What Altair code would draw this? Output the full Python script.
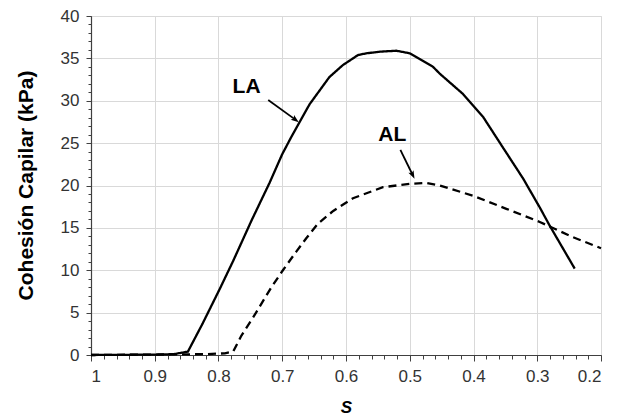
import altair as alt
import pandas as pd

# ---- data ----
la_s = [1.0, 0.95, 0.90, 0.87, 0.848, 0.825, 0.798, 0.777, 0.748, 0.72, 0.70, 0.686, 0.657, 0.626, 0.605, 0.581, 0.568, 0.545, 0.521, 0.50, 0.4635, 0.453, 0.4165, 0.385, 0.354, 0.322, 0.296, 0.28, 0.2413]
la_c = [0.0, 0.02, 0.05, 0.1, 0.4, 3.7, 7.8, 11.1, 15.9, 20.3, 23.7, 25.7, 29.6, 32.8, 34.2, 35.4, 35.6, 35.8, 35.9, 35.6, 34.0, 33.2, 30.8, 28.1, 24.5, 20.8, 17.4, 15.2, 10.2]

al_s = [1.0, 0.90, 0.82, 0.79, 0.777, 0.764, 0.746, 0.717, 0.699, 0.678, 0.662, 0.644, 0.62, 0.589, 0.542, 0.50, 0.474, 0.453, 0.401, 0.3485, 0.296, 0.244, 0.2]
al_c = [0.0, 0.05, 0.1, 0.2, 0.4, 2.3, 4.4, 8.0, 10.0, 12.2, 13.8, 15.5, 17.0, 18.5, 19.8, 20.2, 20.3, 20.0, 18.8, 17.25, 15.7, 13.9, 12.6]

x_ticks = [1, 0.9, 0.8, 0.7, 0.6, 0.5, 0.4, 0.3, 0.2]
y_ticks = [0, 5, 10, 15, 20, 25, 30, 35, 40]
x_minor = [round(0.2 + 0.02 * i, 2) for i in range(41)]
y_minor = list(range(0, 41))

labels = ["LA", "AL"]
label_s = [0.756, 0.5275]
label_c = [31.6, 26.0]
arrow_s0 = [0.722, 0.5147]
arrow_c0 = [30.1, 24.2]
arrow_s1 = [0.680, 0.4958]
arrow_c1 = [27.8, 21.3]

FONT = "Liberation Sans"

df_lines = pd.concat([
    pd.DataFrame({"S": la_s, "C": la_c, "serie": "LA", "ord": list(range(len(la_s)))}),
    pd.DataFrame({"S": al_s, "C": al_c, "serie": "AL", "ord": list(range(len(al_s)))}),
], ignore_index=True)

df_lab = pd.DataFrame({"S": label_s, "C": label_c, "txt": labels})
df_arr = pd.DataFrame({"S": arrow_s0, "C": arrow_c0, "S2": arrow_s1, "C2": arrow_c1, "txt": labels})

xscale = alt.Scale(domain=[0.2, 1.0], reverse=True, nice=False, zero=False)
yscale = alt.Scale(domain=[0, 40], nice=False)

x_axis = alt.Axis(
    values=x_ticks, format="~g", title="S", orient="bottom",
    titleFont=FONT, titleFontSize=17, titleFontWeight="bold", titleFontStyle="italic",
    titleColor="#000", titleBaseline="alphabetic", titleY=57,
    grid=True, gridColor="#d9d9d9", gridWidth=1,
    domainColor="#404040", domainWidth=1.2, tickColor="#404040", tickSize=6,
    labelFont=FONT, labelFontSize=17, labelColor="#333", labelPadding=7,
)
y_axis = alt.Axis(
    values=y_ticks, title="Cohesión Capilar (kPa)", orient="left",
    titleFont=FONT, titleFontSize=21, titleFontWeight="bold", titleColor="#000",
    titleAngle=270, titleBaseline="middle", titleX=-65, titleY=169,
    grid=True, gridColor="#d9d9d9", gridWidth=1,
    domainColor="#404040", domainWidth=1.2, tickColor="#404040", tickSize=5,
    labelFont=FONT, labelFontSize=17, labelColor="#333", labelPadding=7,
)

lines = alt.Chart(df_lines).mark_line(strokeWidth=2.3, color="black").encode(
    x=alt.X("S:Q", scale=xscale, axis=x_axis),
    y=alt.Y("C:Q", scale=yscale, axis=y_axis),
    detail="serie:N",
    order="ord:Q",
    strokeDash=alt.StrokeDash("serie:N", scale=alt.Scale(domain=["LA", "AL"], range=[[1, 0], [8, 5]]), legend=None),
)

minor = alt.Chart(df_lines).mark_point(opacity=0).encode(
    x=alt.X("S:Q", scale=xscale, axis=alt.Axis(values=x_minor, labels=False, grid=False, domain=False,
                                                 ticks=True, tickSize=4, tickColor="#404040", title=None, orient="bottom")),
    y=alt.Y("C:Q", scale=yscale, axis=alt.Axis(values=y_minor, labels=False, grid=False, domain=False,
                                                 ticks=True, tickSize=3, tickColor="#404040", title=None, orient="left")),
)

texts = alt.Chart(df_lab).mark_text(font=FONT, fontSize=21, fontWeight="bold", color="black",
                                     align="center", baseline="middle").encode(
    x=alt.X("S:Q", scale=xscale, axis=None),
    y=alt.Y("C:Q", scale=yscale, axis=None),
    text="txt:N",
)

shafts = alt.Chart(df_arr).mark_rule(strokeWidth=1.8, color="black").encode(
    x=alt.X("S:Q", scale=xscale, axis=None),
    y=alt.Y("C:Q", scale=yscale, axis=None),
    x2="S2:Q",
    y2="C2:Q",
)

head_path = "M0,-1 L0.6,0.7 L0,0.35 L-0.6,0.7 Z"
head_la = alt.Chart(df_arr[df_arr.txt == "LA"]).mark_point(
    shape=head_path, filled=True, size=90, angle=127, color="black", opacity=1
).encode(
    x=alt.X("S2:Q", scale=xscale, axis=None),
    y=alt.Y("C2:Q", scale=yscale, axis=None),
)
head_al = alt.Chart(df_arr[df_arr.txt == "AL"]).mark_point(
    shape=head_path, filled=True, size=90, angle=154, color="black", opacity=1
).encode(
    x=alt.X("S2:Q", scale=xscale, axis=None),
    y=alt.Y("C2:Q", scale=yscale, axis=None),
)

chart = alt.layer(minor, lines, shafts, head_la, head_al, texts).resolve_axis(
    x="independent", y="independent"
).properties(
    width=510, height=339,
    autosize=alt.AutoSizeParams(type="none"),
    padding={"left": 83, "top": 8, "right": 15, "bottom": 62},
).configure_view(
    stroke="#8c8c8c", strokeWidth=1.2
).configure(background="white")

chart.save("out.html", embed_options={"renderer": "svg", "actions": False})
